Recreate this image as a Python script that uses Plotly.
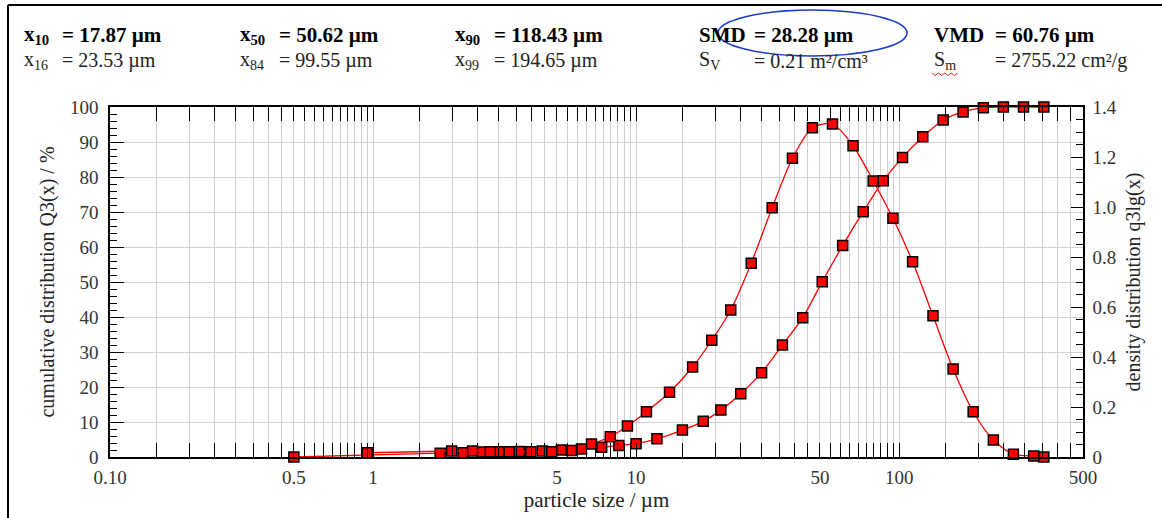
import math
import plotly.graph_objects as go

# ---------------- data ----------------
cum_size = [0.5, 1.8, 2.2, 2.6, 3.0, 3.6, 4.4, 5.2, 6.2, 7.4, 8.6, 10, 12, 15, 18, 21, 25, 30, 36, 43,
            51, 61, 73, 87, 103, 123, 147, 175, 209, 249, 297, 355]
cum_q3 = [0, 1.1, 1.2, 1.4, 1.5, 1.6, 1.7, 2.0, 2.3, 2.8, 3.3, 3.8, 5.2, 7.7, 10.2, 13.4, 18.1, 24.1, 32.0, 39.8,
          50.1, 60.4, 70.1, 78.9, 85.6, 91.5, 96.3, 98.6, 99.8, 100, 100, 100]

dens_size = [0.95, 1.99, 2.39, 2.79, 3.29, 3.98, 4.78, 5.68, 6.77, 7.98, 9.27, 10.95, 13.4, 16.4, 19.4, 22.9,
             27.4, 32.9, 39.3, 46.8, 55.8, 66.8, 79.7, 94.7, 112.5, 134.5, 160.4, 191.2, 228.1, 271.9, 324.7, 355]
dens_q3lg = [0.017, 0.024, 0.024, 0.021, 0.021, 0.021, 0.021, 0.026, 0.052, 0.081, 0.124, 0.181, 0.259, 0.36,
             0.467, 0.588, 0.775, 0.997, 1.195, 1.317, 1.332, 1.245, 1.104, 0.955, 0.781, 0.565, 0.352, 0.181,
             0.068, 0.011, 0.004, 0.0]

x_tickvals = [0.1, 0.5, 1, 5, 10, 50, 100, 500]
x_ticktext = ["0.10", "0.5", "1", "5", "10", "50", "100", "500"]
y_tickvals = [0, 10, 20, 30, 40, 50, 60, 70, 80, 90, 100]
y2_tickvals = [0, 0.2, 0.4, 0.6, 0.8, 1.0, 1.2, 1.4]
y2_ticktext = ["0", "0.2", "0.4", "0.6", "0.8", "1.0", "1.2", "1.4"]

header_top = [("x<sub>10</sub>", "= 17.87 µm"), ("x<sub>50</sub>", "= 50.62 µm"),
              ("x<sub>90</sub>", "= 118.43 µm"), ("SMD", "= 28.28 µm"), ("VMD", "= 60.76 µm")]
header_bot = [("x<sub>16</sub>", "= 23.53 µm"), ("x<sub>84</sub>", "= 99.55 µm"),
              ("x<sub>99</sub>", "= 194.65 µm"), ("S<sub>V</sub>", "= 0.21 m²/cm³"),
              ("S<sub>m</sub>", "= 2755.22 cm²/g")]

# ---------------- layout geometry ----------------
W, H = 1162, 518
L, R, T, B = 110, 79, 107, 61
PW, PH = W - L - R, H - T - B


def px(x):
    return (x - L) / PW


def py(y):
    return (H - B - y) / PH


# grid positions (style, not data)
grid_x = []
for dec, step, n in [(0.1, 0.05, 18), (1, 0.5, 18), (10, 5, 18), (100, 50, 8)]:
    for i in range(1, n + 1):
        grid_x.append(round(dec + i * step, 4))

SERIF = "Liberation Serif"
RED = "#ff0000"

fig = go.Figure()
fig.add_trace(go.Scatter(
    x=cum_size, y=cum_q3, mode="lines+markers", yaxis="y",
    line=dict(color=RED, width=1.3, shape="spline", smoothing=0.8),
    marker=dict(symbol="square", size=10, color=RED, line=dict(color="black", width=1.5)),
    name="Q3(x)", showlegend=False, cliponaxis=False))
fig.add_trace(go.Scatter(
    x=dens_size, y=dens_q3lg, mode="lines+markers", yaxis="y2",
    line=dict(color=RED, width=1.3, shape="spline", smoothing=0.8),
    marker=dict(symbol="square", size=10, color=RED, line=dict(color="black", width=1.5)),
    name="q3lg(x)", showlegend=False, cliponaxis=False))

axis_font = dict(family=SERIF, size=19, color="#333")
GRID = "#d0d0d0"

fig.update_layout(
    width=W, height=H,
    margin=dict(l=L, r=R, t=T, b=B),
    paper_bgcolor="white", plot_bgcolor="white",
    font=dict(family=SERIF, size=17, color="#222"),
    xaxis=dict(
        type="log", range=[-1, math.log10(500)],
        tickmode="array", tickvals=x_tickvals, ticktext=x_ticktext,
        ticks="inside", ticklen=14, tickwidth=1.2, tickcolor="black",
        showline=True, linecolor="black", linewidth=1.5, mirror="allticks",
        showgrid=True, gridcolor=GRID, gridwidth=1.3,
        tickfont=axis_font, ticklabelstandoff=2,
        minor=dict(tickmode="array", tickvals=grid_x, ticks="inside", ticklen=8,
                   tickwidth=1.2, tickcolor="black", showgrid=True, gridcolor=GRID, gridwidth=1.3),
        title=dict(text="particle size / µm", font=dict(family=SERIF, size=21, color="#222"), standoff=4),
        zeroline=False,
    ),
    yaxis=dict(
        range=[0, 100], tickmode="array", tickvals=y_tickvals,
        ticks="inside", ticklen=14, tickwidth=1.2, tickcolor="black",
        showline=True, linecolor="black", linewidth=1.5,
        showgrid=True, gridcolor=GRID, gridwidth=1.3,
        tickfont=axis_font, ticklabelstandoff=6,
        minor=dict(dtick=2, ticks="inside", ticklen=7, tickwidth=1.2, tickcolor="black", showgrid=False),
        title=dict(text="cumulative distribution Q3(x) / %", font=dict(family=SERIF, size=20, color="#222"),
                   standoff=10),
        zeroline=False,
    ),
    yaxis2=dict(
        overlaying="y", side="right", range=[0, 1.4],
        tickmode="array", tickvals=y2_tickvals, ticktext=y2_ticktext,
        ticks="inside", ticklen=12, tickwidth=1.2, tickcolor="black",
        showline=True, linecolor="black", linewidth=1.5,
        showgrid=False, tickfont=axis_font, ticklabelstandoff=4,
        minor=dict(dtick=0.05, ticks="inside", ticklen=7, tickwidth=1.2, tickcolor="black", showgrid=False),
        title=dict(text="density distribution q3lg(x)", font=dict(family=SERIF, size=20, color="#222"),
                   standoff=10),
        zeroline=False,
    ),
)

# header annotations
label_x = [22, 238, 453, 697, 932]
value_x = [60, 277, 492, 752, 993]
ann = []
for i, (lab, val) in enumerate(header_top):
    ann.append(dict(x=px(label_x[i]), y=py(35), xref="paper", yref="paper", xanchor="left", yanchor="middle",
                    text="<b>" + lab + "</b>", showarrow=False, font=dict(family=SERIF, size=21, color="black")))
    ann.append(dict(x=px(value_x[i]), y=py(35), xref="paper", yref="paper", xanchor="left", yanchor="middle",
                    text="<b>" + val + "</b>", showarrow=False, font=dict(family=SERIF, size=21, color="black")))
for i, (lab, val) in enumerate(header_bot):
    ann.append(dict(x=px(label_x[i]), y=py(61), xref="paper", yref="paper", xanchor="left", yanchor="middle",
                    text=lab, showarrow=False, font=dict(family=SERIF, size=20, color="#222")))
    ann.append(dict(x=px(value_x[i]), y=py(61), xref="paper", yref="paper", xanchor="left", yanchor="middle",
                    text=val, showarrow=False, font=dict(family=SERIF, size=20, color="#222")))
fig.update_layout(annotations=ann)

# frame lines and highlight ellipse
shapes = [
    dict(type="line", xref="paper", yref="paper", x0=px(8), x1=px(W), y0=py(5), y1=py(5),
         line=dict(color="black", width=2)),
    dict(type="line", xref="paper", yref="paper", x0=px(8), x1=px(8), y0=py(5), y1=py(H),
         line=dict(color="black", width=2)),
    dict(type="circle", xref="paper", yref="paper", x0=px(718), x1=px(907), y0=py(10), y1=py(56),
         line=dict(color="#1a3cc8", width=1.6)),
]
# red spell-check squiggle under S_m
zz = "M {} {}".format(px(932), py(73))
for k in range(1, 9):
    zz += " L {} {}".format(px(932 + k * 3.2), py(73 + (2.5 if k % 2 else 0)))
shapes.append(dict(type="path", xref="paper", yref="paper", path=zz, line=dict(color="#e02020", width=1)))
fig.update_layout(shapes=shapes)

fig.write_html("out.html", config={"displayModeBar": False},
               post_script="document.body.style.margin='0';document.body.style.overflow='hidden';")
